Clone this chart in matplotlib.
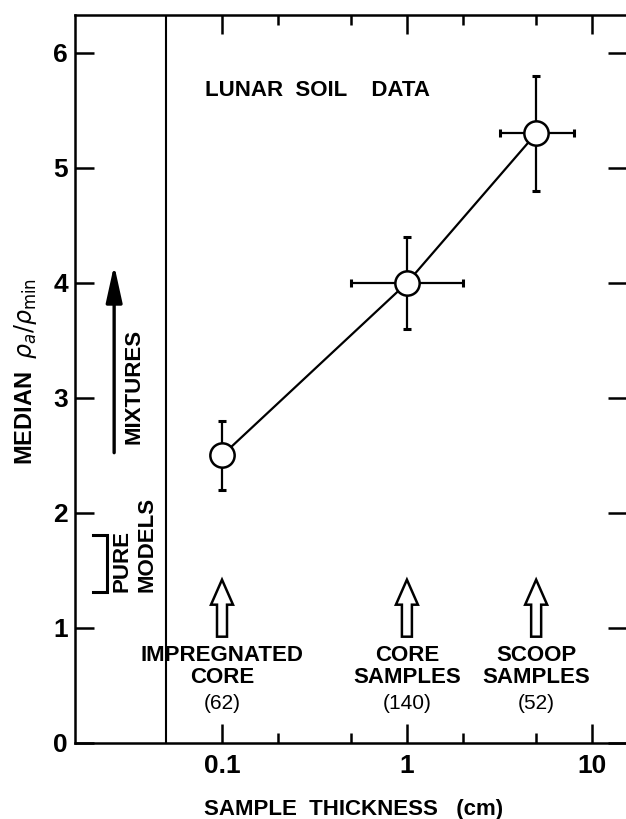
import numpy as np
import matplotlib
matplotlib.use("Agg")
import matplotlib.pyplot as plt
from matplotlib import ticker, transforms
from matplotlib.patches import Polygon

# data
thickness = [0.1, 1.0, 5.0]
median_ratio = [2.5, 4.0, 5.3]
ratio_low = [2.2, 3.6, 4.8]
ratio_high = [2.8, 4.4, 5.8]
thick_low = [0.1, 0.5, 3.2]
thick_high = [0.1, 2.0, 8.0]
sample_names = ["IMPREGNATED\nCORE", "CORE\nSAMPLES", "SCOOP\nSAMPLES"]
sample_counts = ["(62)", "(140)", "(52)"]
x_ticks = [0.1, 1, 10]
x_tick_labels = ["0.1", "1", "10"]
x_minor = [0.2, 0.5, 2, 5]
y_ticks = [0, 1, 2, 3, 4, 5, 6]

plt.rcParams['font.family'] = ['Liberation Sans', 'DejaVu Sans']
bold = dict(fontweight='bold', color='black')

fig = plt.figure(figsize=(6.26, 8.19), dpi=100)
ax = fig.add_axes([75/626, 76/819, 552/626, 728/819])
ax.set_xscale('log')
ax.set_xlim(0.01603, 15.5)
ax.set_ylim(0, 6.33)

for s in ax.spines.values():
    s.set_linewidth(1.8)

ax.xaxis.set_major_locator(ticker.FixedLocator(x_ticks))
ax.xaxis.set_minor_locator(ticker.FixedLocator(x_minor))
ax.xaxis.set_major_formatter(ticker.FixedFormatter(x_tick_labels))
ax.xaxis.set_minor_formatter(ticker.NullFormatter())
ax.set_yticks(y_ticks)
ax.tick_params(which='both', direction='in', top=True, right=True, width=1.8)
ax.tick_params(which='major', length=14)
ax.tick_params(which='minor', length=7)
ax.tick_params(axis='x', pad=8)
ax.tick_params(axis='y', pad=5)
for lab in ax.get_xticklabels() + ax.get_yticklabels():
    lab.set_fontweight('bold')
    lab.set_fontsize(19)

# divider line
ax.axvline(0.05, color='black', lw=1.5)

# error bars + connecting line
xerr = [np.array(thickness) - np.array(thick_low), np.array(thick_high) - np.array(thickness)]
yerr = [np.array(median_ratio) - np.array(ratio_low), np.array(ratio_high) - np.array(median_ratio)]
ax.errorbar(thickness, median_ratio, xerr=xerr, yerr=yerr, fmt='none', ecolor='black',
            elinewidth=1.6, capsize=3, capthick=2.2, zorder=2)
ax.plot(thickness, median_ratio, color='black', lw=1.6, zorder=2)
ax.plot(thickness, median_ratio, 'o', ms=17.5, mfc='white', mec='black', mew=1.8, zorder=3)

ax.text(0.081, 5.67, "LUNAR  SOIL    DATA", fontsize=16, va='center', ha='left', **bold)

# hollow arrows + sample labels
arrow_pts = np.array([[0, 0], [-0.11, -0.25], [-0.05, -0.25], [-0.05, -0.57],
                      [0.05, -0.57], [0.05, -0.25], [0.11, -0.25]])
for x, name, n in zip(thickness, sample_names, sample_counts):
    tr = fig.dpi_scale_trans + transforms.ScaledTranslation(x, 1.42, ax.transData)
    ax.add_patch(Polygon(arrow_pts, closed=True, fc='white', ec='black', lw=1.8, transform=tr))
    ax.text(x, 0.665, name, ha='center', va='center', fontsize=16, linespacing=1.05, **bold)
    ax.text(x, 0.345, n, ha='center', va='center', fontsize=15, color='black')

# mixtures arrow and pure models bracket
ax.annotate('', xy=(0.0261, 4.18), xytext=(0.0261, 2.5),
            arrowprops=dict(arrowstyle='-|>,head_length=1.5,head_width=0.33',
                            mutation_scale=15, lw=2.4, color='black'))
ax.text(0.0334, 2.6, "MIXTURES", rotation=90, ha='center', va='bottom', fontsize=16, **bold)
ax.plot([0.0201, 0.0239, 0.0239, 0.0201], [1.81, 1.81, 1.31, 1.31], color='black', lw=2.2,
        solid_joinstyle='miter', clip_on=False)
ax.text(0.0288, 1.31, "PURE", rotation=90, ha='center', va='bottom', fontsize=16, **bold)
ax.text(0.0394, 1.31, "MODELS", rotation=90, ha='center', va='bottom', fontsize=16, **bold)

fig.text(26/626, 1 - 372/819, r"MEDIAN  $\rho_a/\rho_{\mathrm{min}}$", rotation=90,
         ha='center', va='center', fontsize=17, **bold)
fig.text(354/626, 1 - 810/819, "SAMPLE  THICKNESS   (cm)", ha='center', va='center',
         fontsize=16, **bold)

fig.savefig("out.png", dpi=100)
